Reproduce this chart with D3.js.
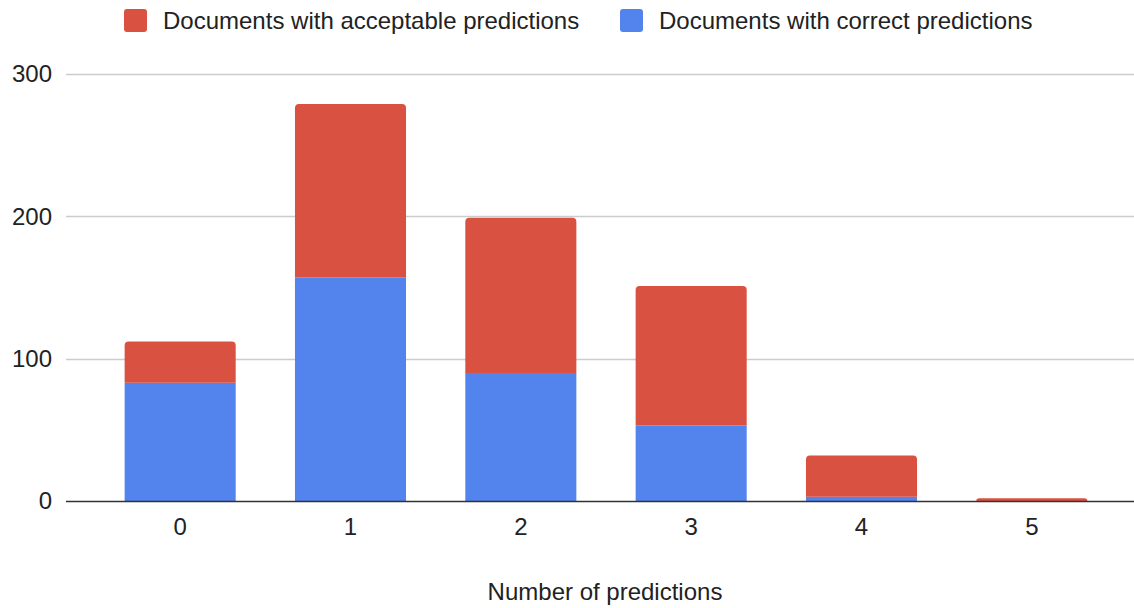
<!DOCTYPE html>
<html>
<head>
<meta charset="utf-8">
<script src="https://cdn.jsdelivr.net/npm/d3@7"></script>
<style>
  html, body { margin: 0; padding: 0; background: #fff; }
  svg { display: block; font-family: "Liberation Sans", Arial, sans-serif; }
</style>
</head>
<body>
<svg id="chart" width="1134" height="608"></svg>
<script>
// Number of predictions per document
const categories = ["0", "1", "2", "3", "4", "5"];
// Documents whose predictions were correct (bottom segment)
const correct = [83, 157, 90, 53, 3, 0];
// Additional documents with acceptable predictions (stacked on top)
const acceptable = [29, 122, 109, 98, 29, 2];
const yTicks = [0, 100, 200, 300];
const seriesNames = ["Documents with acceptable predictions", "Documents with correct predictions"];

const colors = { correct: "#5383ec", acceptable: "#d95140" };
const FONT = 24;

const svg = d3.select("#chart");
const plot = { left: 66, right: 1134, top: 74, bottom: 501 };

const x = d3.scaleBand()
  .domain(categories)
  .range([95, 1117])
  .paddingInner(0.348)
  .paddingOuter(0.174);

const y = d3.scaleLinear()
  .domain([0, 300])
  .range([plot.bottom, plot.top]);

// Gridlines
svg.append("g")
  .selectAll("line")
  .data(yTicks.filter(d => d !== 0))
  .join("line")
  .attr("x1", plot.left).attr("x2", plot.right)
  .attr("y1", d => Math.round(y(d)) + 0.5).attr("y2", d => Math.round(y(d)) + 0.5)
  .attr("stroke", "#cccccc").attr("stroke-width", 1.3);

// Y axis labels
const yAxis = d3.axisLeft(y).tickValues(yTicks).tickSize(0).tickPadding(0);
const yg = svg.append("g").attr("transform", `translate(52,0)`).call(yAxis);
yg.select(".domain").remove();
yg.selectAll("text").attr("font-size", FONT).attr("fill", "#222").attr("font-family", "Liberation Sans, Arial, sans-serif");

// Stacked data
const rows = categories.map((c, i) => ({ cat: c, correct: correct[i], acceptable: acceptable[i] }));
const stack = d3.stack().keys(["correct", "acceptable"]);
const layers = stack(rows);

const r = 4;
function roundedTopPath(x0, y0, w, h, rad) {
  rad = Math.min(rad, h, w / 2);
  return `M${x0},${y0 + h}V${y0 + rad}Q${x0},${y0} ${x0 + rad},${y0}H${x0 + w - rad}Q${x0 + w},${y0} ${x0 + w},${y0 + rad}V${y0 + h}Z`;
}

layers.forEach(layer => {
  const key = layer.key;
  svg.append("g")
    .selectAll("path")
    .data(layer.filter(d => d[1] - d[0] > 0))
    .join("path")
    .attr("fill", colors[key])
    .attr("d", d => {
      const x0 = x(d.data.cat), w = x.bandwidth();
      const yTop = y(d[1]), yBot = y(d[0]);
      const isTop = key === "acceptable" || d.data.acceptable === 0;
      if (isTop) return roundedTopPath(x0, yTop, w, yBot - yTop, r);
      return `M${x0},${yBot}V${yTop}H${x0 + w}V${yBot}Z`;
    });
});

// Baseline
svg.append("line")
  .attr("x1", plot.left).attr("x2", plot.right)
  .attr("y1", plot.bottom + 0.5).attr("y2", plot.bottom + 0.5)
  .attr("stroke", "#333").attr("stroke-width", 1.5);

// X axis labels
const xAxis = d3.axisBottom(x).tickSize(0).tickPadding(0);
const xg = svg.append("g").attr("transform", `translate(0,${plot.bottom + 17})`).call(xAxis);
xg.select(".domain").remove();
xg.selectAll("text").attr("font-size", FONT).attr("fill", "#222").attr("dy", "0.71em").attr("font-family", "Liberation Sans, Arial, sans-serif");

// Axis title
svg.append("text")
  .attr("x", 605).attr("y", 600)
  .attr("text-anchor", "middle")
  .attr("font-size", FONT).attr("fill", "#222")
  .text("Number of predictions");

// Legend
const legendItems = [
  { name: seriesNames[0], color: colors.acceptable, x: 124, tx: 163 },
  { name: seriesNames[1], color: colors.correct, x: 620, tx: 659 }
];
const lg = svg.append("g");
legendItems.forEach(it => {
  lg.append("rect").attr("x", it.x).attr("y", 9).attr("width", 23).attr("height", 23)
    .attr("rx", 3).attr("fill", it.color);
  lg.append("text").attr("x", it.tx).attr("y", 29)
    .attr("font-size", FONT).attr("fill", "#222").text(it.name);
});
</script>
</body>
</html>
